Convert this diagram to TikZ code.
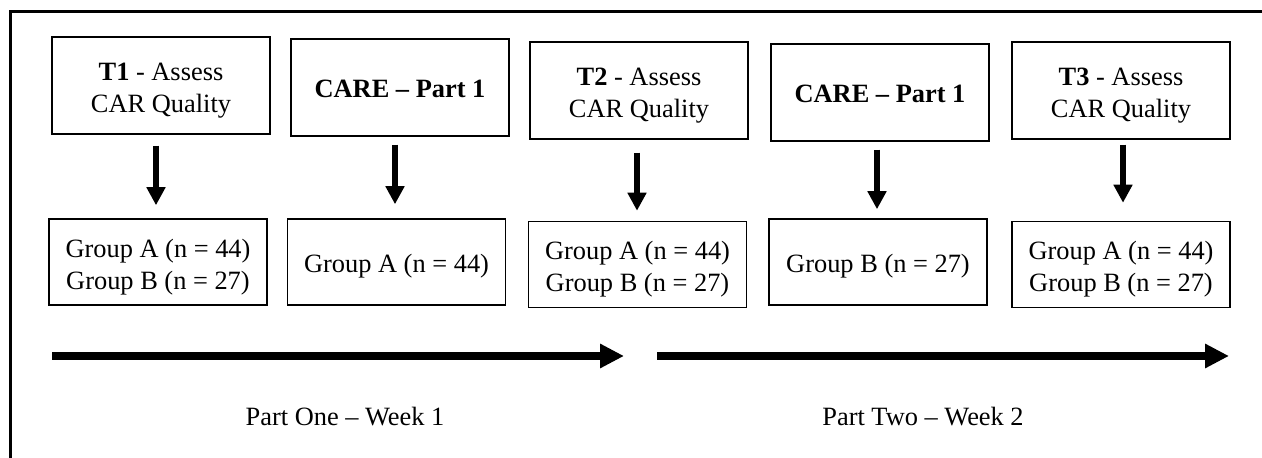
\documentclass[tikz,border=0pt]{standalone}
\usepackage{fontspec}
\setmainfont{Liberation Serif}
\usetikzlibrary{arrows.meta}
\begin{document}
\begin{tikzpicture}[x=0.5pt,y=-0.5pt,
  stagebox/.style={draw, line width=0.75pt, inner sep=0pt, minimum width=109pt},
  topbox/.style={stagebox, minimum height=48.5pt},
  groupbox/.style={stagebox, minimum height=43pt},
  boxtext/.style={inner sep=0pt, align=center, font=\fontsize{13.2pt}{16pt}\selectfont},
  varrow/.style={line width=2.6pt, -{Triangle[width=9pt,length=9pt]}},
  harrow/.style={line width=4pt, -{Triangle[width=11.5pt,length=12pt]}},
  weeklabel/.style={font=\fontsize{13.2pt}{16pt}\selectfont, inner sep=0pt}]
\useasboundingbox (0,0) rectangle (1262,458);
\begin{scope}
  \clip (0,0) rectangle (1262,458);
  \draw[line width=1.5pt] (10,12) rectangle (1280,480);
\end{scope}

% assessment and training stages
\node[topbox] (t1) at (161,85.5) {};
\node[topbox] (t2) at (400,87.5) {};
\node[topbox] (t3) at (639,90.5) {};
\node[topbox] (t4) at (880,92.5) {};
\node[topbox] (t5) at (1121,90.5) {};
\node[boxtext] (t1txt) at ([yshift=-2.6pt]t1.center) {\textbf{T1} - Assess\\CAR Quality};
\node[boxtext] (t2txt) at ([yshift=-0.5pt]t2.center) {\textbf{CARE – Part 1}};
\node[boxtext] (t3txt) at ([yshift=-2.6pt]t3.center) {\textbf{T2} - Assess\\CAR Quality};
\node[boxtext] (t4txt) at ([yshift=-0.5pt]t4.center) {\textbf{CARE – Part 1}};
\node[boxtext] (t5txt) at ([yshift=-2.6pt]t5.center) {\textbf{T3} - Assess\\CAR Quality};

% participating groups
\node[groupbox] (b1) at (158,262) {};
\node[groupbox] (b2) at (396.5,262) {};
\node[groupbox] (b3) at (637.5,264.5) {};
\node[groupbox] (b4) at (878,262) {};
\node[groupbox] (b5) at (1121,264.5) {};
\node[boxtext] (b1txt) at ([yshift=-2.5pt]b1.center) {Group A (n = 44)\\Group B (n = 27)};
\node[boxtext] (b2txt) at ([yshift=-2pt]b2.center) {Group A (n = 44)};
\node[boxtext] (b3txt) at ([yshift=-2.5pt]b3.center) {Group A (n = 44)\\Group B (n = 27)};
\node[boxtext] (b4txt) at ([yshift=-2pt]b4.center) {Group B (n = 27)};
\node[boxtext] (b5txt) at ([yshift=-2.5pt]b5.center) {Group A (n = 44)\\Group B (n = 27)};

% stage to group arrows
\draw[varrow, shorten <=5.5pt, shorten >=6.5pt] (t1.south -| 156,0) -- (b1.north -| 156,0);
\draw[varrow, shorten <=4pt, shorten >=7pt] (t2.south -| 395,0) -- (b2.north -| 395,0);
\draw[varrow, shorten <=6.5pt, shorten >=5pt] (t3.south -| 637,0) -- (b3.north -| 637,0);
\draw[varrow, shorten <=4pt, shorten >=4.5pt] (t4.south -| 877,0) -- (b4.north -| 877,0);
\draw[varrow, shorten <=2.5pt, shorten >=9pt] (t5.south -| 1123,0) -- (b5.north -| 1123,0);

% timeline
\coordinate (w1s) at (52,356);
\coordinate (w1e) at (624,356);
\coordinate (w2s) at (657,356);
\coordinate (w2e) at (1229,356);
\draw[harrow] (w1s) -- (w1e);
\draw[harrow] (w2s) -- (w2e);
\node[weeklabel] (l1) at (345,417) {Part One – Week 1};
\node[weeklabel] (l2) at (923,417) {Part Two – Week 2};
\end{tikzpicture}
\end{document}
